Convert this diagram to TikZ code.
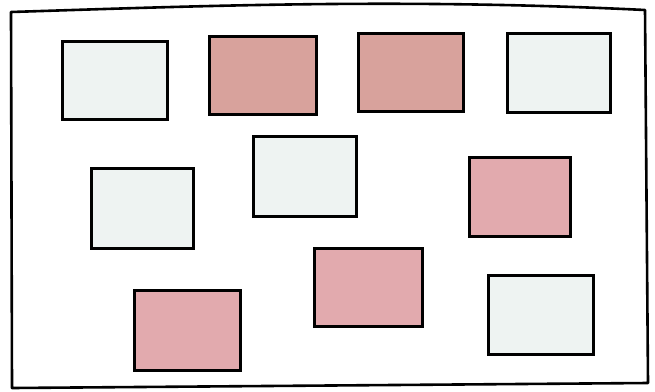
\documentclass[tikz,border=0pt]{standalone}
\begin{document}
\begin{tikzpicture}[x=1pt,y=-1pt,
  card/.style={draw=black,line width=2.6pt,rectangle,inner sep=0pt,anchor=north west},
  lightcard/.style={card,fill=lightc},
  salmoncard/.style={card,fill=salmonc},
  pinkcard/.style={card,fill=pinkc}]
\definecolor{lightc}{HTML}{EEF3F2}
\definecolor{salmonc}{HTML}{D8A29C}
\definecolor{pinkc}{HTML}{E2AAAE}
\useasboundingbox (0,0) rectangle (655,391);
\fill[white] (0,0) rectangle (655,391);
% outer frame
\draw[line width=2.6pt,line join=round] (12,388) -- (11,12) .. controls (200,6) and (400,-2) .. (645,10) -- (648,383) -- cycle;
% cards
\node[lightcard,minimum width=105pt,minimum height=78pt] (a) at (61,40) {};
\node[salmoncard,minimum width=107pt,minimum height=78pt] (b) at (208,35) {};
\node[salmoncard,minimum width=105pt,minimum height=78pt] (c) at (357,32) {};
\node[lightcard,minimum width=103pt,minimum height=79pt] (d) at (506,32) {};
\node[lightcard,minimum width=102pt,minimum height=80pt] (e) at (90,167) {};
\node[lightcard,minimum width=103pt,minimum height=80pt] (f) at (252,135) {};
\node[pinkcard,minimum width=101pt,minimum height=79pt] (g) at (468,156) {};
\node[pinkcard,minimum width=108pt,minimum height=78pt] (h) at (313,247) {};
\node[pinkcard,minimum width=106pt,minimum height=80pt] (i) at (133,289) {};
\node[lightcard,minimum width=105pt,minimum height=79pt] (j) at (487,274) {};
\end{tikzpicture}
\end{document}
